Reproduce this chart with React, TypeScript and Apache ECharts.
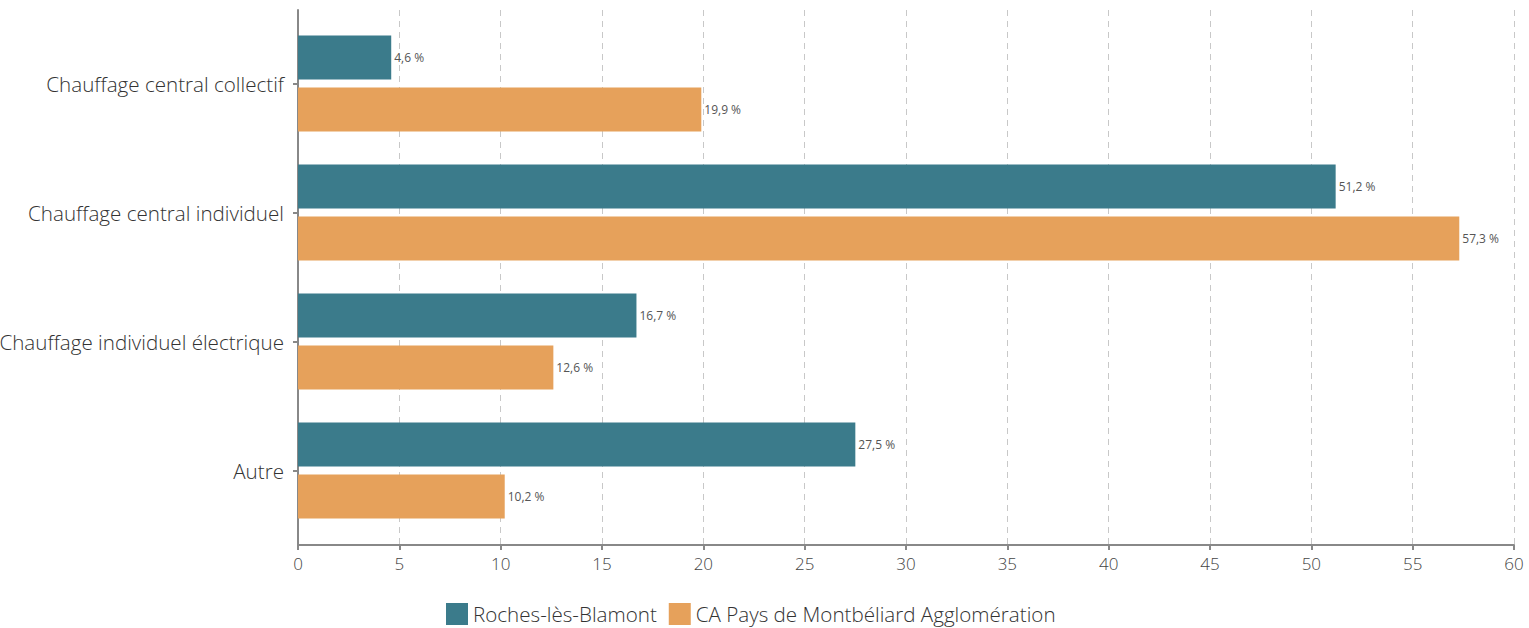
import React, { useEffect, useRef } from "react";
import * as echarts from "echarts";

const categories = [
  "Chauffage central collectif",
  "Chauffage central individuel",
  "Chauffage individuel électrique",
  "Autre",
];
const seriesNames = ["Roches-lès-Blamont", "CA Pays de Montbéliard Agglomération"];
const rochesValues = [4.6, 51.2, 16.7, 27.5];
const caValues = [19.9, 57.3, 12.6, 10.2];
const colors = ["#3b7b8b", "#e6a15b"];

const FONT = "Open Sans";

export default function App() {
  const ref = useRef<HTMLDivElement>(null);
  useEffect(() => {
    if (!ref.current) return;
    const chart = echarts.init(ref.current, null, { renderer: "svg" });
    const fmt = (p: any) => String(p.value).replace(".", ",") + " %";
    const label = {
      show: true,
      position: "right",
      distance: 3,
      formatter: fmt,
      color: "#555",
      fontSize: 12,
      fontFamily: FONT,
    };
    chart.setOption({
      animation: false,
      textStyle: { fontFamily: FONT },
      grid: [
        { left: 298, right: 15, top: 10, bottom: 83, containLabel: false, outerBoundsMode: "none" },
        { left: 298, right: 15, top: 19, bottom: 93, containLabel: false, outerBoundsMode: "none" },
      ],
      xAxis: [
        {
          gridIndex: 0,
          type: "value",
          min: 0,
          max: 60,
          interval: 5,
          axisLine: { show: true, lineStyle: { color: "#888", width: 2 } },
          axisTick: { show: true, length: 5, lineStyle: { color: "#888", width: 2 } },
          axisLabel: { color: "#444", fontSize: 17, fontWeight: 300, margin: 10, fontFamily: FONT },
          splitLine: { show: true, lineStyle: { color: "#c8c8c8", type: [6, 5], width: 1 } },
        },
        {
          gridIndex: 1,
          type: "value",
          min: 0,
          max: 60,
          show: false,
        },
      ],
      yAxis: [
        {
          gridIndex: 0,
          type: "value",
          min: 0,
          max: 1,
          axisLine: { show: true, lineStyle: { color: "#888", width: 2 } },
          axisTick: { show: false },
          axisLabel: { show: false },
          splitLine: { show: false },
        },
        {
          gridIndex: 1,
          type: "category",
          inverse: true,
          data: categories,
          axisLine: { show: false },
          axisTick: { show: true, alignWithLabel: true, length: 5, lineStyle: { color: "#888", width: 2 } },
          axisLabel: { color: "#333", fontSize: 20.6, fontWeight: 300, margin: 14, fontFamily: FONT },
        },
      ],
      legend: {
        left: 441,
        top: 598,
        itemWidth: 22,
        itemHeight: 22,
        itemGap: 12,
        icon: "rect",
        textStyle: { color: "#333", fontSize: 20.6, fontWeight: 300, fontFamily: FONT },
        data: seriesNames,
      },
      series: [
        {
          name: seriesNames[0],
          type: "bar",
          xAxisIndex: 1,
          yAxisIndex: 1,
          data: rochesValues,
          barWidth: 44,
          barGap: "18%",
          itemStyle: { color: colors[0] },
          label,
        },
        {
          name: seriesNames[1],
          type: "bar",
          xAxisIndex: 1,
          yAxisIndex: 1,
          data: caValues,
          barWidth: 44,
          barGap: "18%",
          itemStyle: { color: colors[1] },
          label,
        },
      ],
    });
    return () => chart.dispose();
  }, []);
  return (
    <div
      ref={ref}
      style={{ position: "fixed", left: 0, top: 0, width: 1529, height: 628, background: "#fff" }}
    />
  );
}
